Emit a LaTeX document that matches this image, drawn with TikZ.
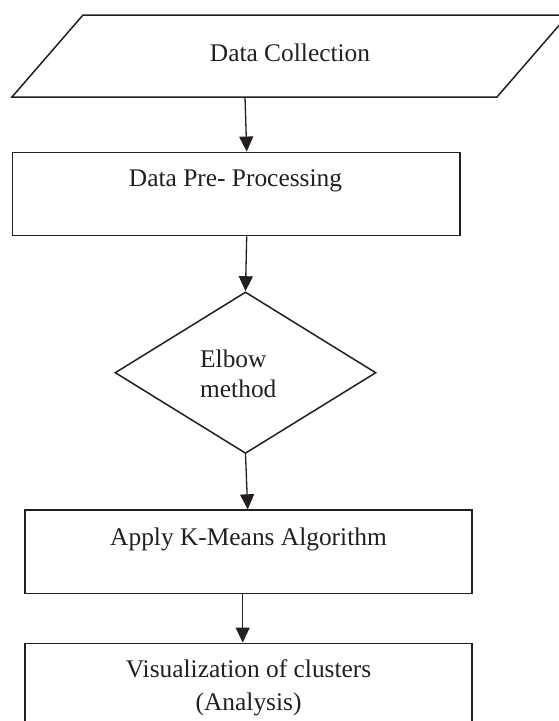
\documentclass[tikz,border=0pt]{standalone}
\usepackage{fontspec}
\setmainfont{Liberation Serif}
\usetikzlibrary{arrows.meta,shapes.geometric}
\definecolor{ink}{HTML}{231F20}
\begin{document}
\begin{tikzpicture}[x=1pt,y=-1pt,
  shapeline/.style={draw=ink,line width=1.5pt},
  boxnode/.style={shapeline,rectangle,inner sep=0pt},
  lbl/.style={text=ink,inner sep=0pt,font=\fontsize{25.4}{30.5}\selectfont},
  arr/.style={draw=ink,line width=1.3pt,-{Triangle[length=15pt,width=14pt]},shorten >=0pt}]
\path[use as bounding box,clip] (0,0) rectangle (559,721);
% Data Collection (parallelogram)
\coordinate (dcA) at (83,15);
\coordinate (dcB) at (568,15);
\coordinate (dcC) at (497,97);
\coordinate (dcD) at (12,97);
\draw[shapeline,line join=miter] (dcA) -- (dcB) -- (dcC) -- (dcD) -- cycle;
\node[lbl,anchor=base] (dctext) at (290,61) {Data Collection};
\coordinate (dcbot) at (245,97);
% Data Pre-Processing
\node[boxnode,minimum width=447.7pt,minimum height=83.4pt] (pre) at (236.2,194) {};
\node[lbl,anchor=base] (pretext) at (235.5,186.7) {Data Pre- Processing};
% Elbow method
\node[shapeline,diamond,inner sep=0pt,minimum width=261pt,minimum height=161.5pt] (elb) at (245.5,372.7) {};
\node[lbl,anchor=base west,align=left,font=\fontsize{25.4}{30.4}\selectfont] (elbtext) at (200,397.7) {Elbow\\method};
% Apply K-Means
\node[boxnode,minimum width=447pt,minimum height=83.3pt] (km) at (248.5,551.7) {};
\node[lbl,anchor=base] (kmtext) at (248.5,545) {Apply K-Means Algorithm};
% Visualization
\node[boxnode,minimum width=446.7pt,minimum height=95pt] (vis) at (248.4,690.8) {};
\node[lbl,anchor=base,align=center,font=\fontsize{25.4}{33}\selectfont] (vistext) at (248.6,710.5) {Visualization of clusters\\(Analysis)};
% connectors
\draw[arr] (dcbot) -- ([xshift=10.5pt]pre.north);
\draw[arr] ([xshift=10.5pt]pre.south) -- (elb.north);
\draw[arr] (elb.south) -- ([xshift=-0.8pt]km.north);
\draw[arr] ([xshift=-5.8pt]km.south) -- ([xshift=-5.7pt]vis.north);
\end{tikzpicture}
\end{document}
